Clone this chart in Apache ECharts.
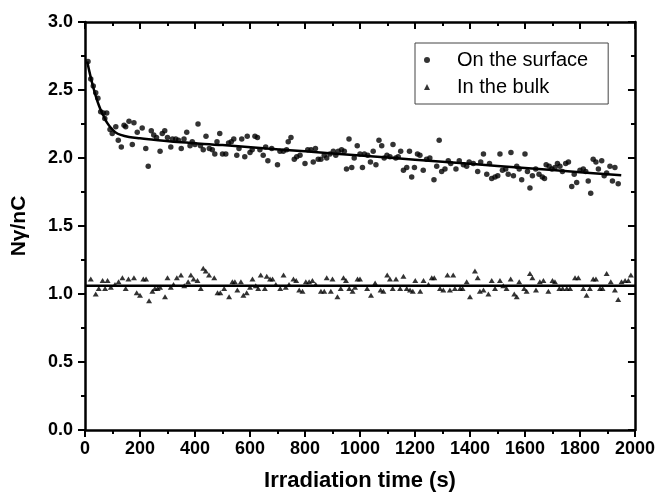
<!DOCTYPE html>
<html>
<head>
<meta charset="utf-8">
<script src="https://cdn.jsdelivr.net/npm/echarts@6/dist/echarts.min.js"></script>
<style>
html,body{margin:0;padding:0;background:#fff;}
#c{width:658px;height:499px;}
</style>
</head>
<body>
<div id="c"></div>
<script>
// Axis ticks
const xTicks = [0, 200, 400, 600, 800, 1000, 1200, 1400, 1600, 1800, 2000];
const yTicks = [0.0, 0.5, 1.0, 1.5, 2.0, 2.5, 3.0];

// "On the surface" measurements
const surfaceT = [11,21,30,39,47,57,67,72,79,91,99,112,121,132,142,148,160,172,178,190,208,221,230,241,250,260,273,281,290,300,312,318,330,340,350,360,370,382,390,400,411,420,430,440,452,463,472,480,490,500,512,522,532,541,552,560,570,581,590,600,608,618,627,636,648,657,665,679,700,709,721,733,739,749,761,770,782,800,810,822,830,838,848,858,870,879,891,903,912,921,933,943,951,960,970,979,990,1000,1009,1016,1028,1038,1048,1058,1069,1079,1088,1098,1109,1120,1130,1139,1148,1158,1170,1180,1188,1198,1209,1218,1230,1242,1254,1269,1279,1288,1297,1309,1321,1330,1349,1361,1376,1388,1397,1412,1428,1439,1449,1461,1471,1479,1491,1501,1509,1518,1530,1539,1549,1558,1570,1579,1588,1600,1609,1618,1627,1639,1651,1663,1671,1677,1688,1698,1709,1718,1727,1736,1748,1758,1770,1779,1788,1800,1812,1821,1830,1839,1848,1858,1867,1879,1888,1897,1909,1918,1927,1939];
const surfaceV = [2.71,2.58,2.53,2.48,2.44,2.34,2.33,2.29,2.33,2.21,2.18,2.23,2.13,2.08,2.24,2.23,2.27,2.10,2.26,2.19,2.22,2.07,1.94,2.20,2.17,2.15,2.05,2.18,2.20,2.15,2.08,2.14,2.14,2.13,2.07,2.14,2.19,2.09,2.12,2.10,2.25,2.09,2.06,2.16,2.07,2.06,2.03,2.12,2.18,2.03,2.03,2.11,2.12,2.14,2.02,2.07,2.14,2.01,2.16,2.04,2.06,2.16,2.15,2.06,2.02,2.08,1.98,2.07,1.95,2.05,2.05,2.06,2.12,2.15,1.99,2.01,2.02,1.96,2.06,2.06,1.97,2.07,1.99,1.99,2.02,2.00,2.03,2.05,2.02,2.05,2.06,2.05,1.92,2.14,1.93,2.00,2.09,2.03,1.93,2.03,2.02,1.97,2.05,1.95,2.13,2.09,2.00,2.02,2.01,2.10,2.00,2.01,2.05,1.91,1.93,2.05,1.86,1.93,2.03,2.02,1.91,1.99,2.00,1.84,1.94,2.13,1.90,1.92,1.98,1.96,1.92,1.98,1.95,1.94,1.97,1.96,1.90,1.97,2.03,1.88,1.96,1.85,1.86,1.87,2.03,1.91,1.92,1.88,2.04,1.87,1.94,1.92,1.84,2.03,1.90,1.78,1.87,1.92,1.88,1.86,1.85,1.95,1.94,1.92,1.93,1.96,1.94,1.90,1.96,1.97,1.79,1.88,1.82,1.91,1.92,1.90,1.83,1.74,1.99,1.97,1.92,1.98,1.87,1.89,1.94,1.83,1.93,1.81];

// "In the bulk" measurements
const bulkT = [21,39,50,64,73,82,94,109,122,136,148,158,178,188,200,212,222,233,245,254,264,273,291,300,312,322,334,349,361,375,385,395,409,421,430,439,451,470,482,492,506,524,536,545,554,567,576,588,600,609,621,630,639,654,661,673,682,694,710,722,730,742,758,768,779,791,803,815,827,839,858,870,879,894,900,918,930,940,949,961,973,982,991,1000,1026,1040,1055,1075,1085,1099,1109,1119,1131,1146,1158,1170,1182,1192,1201,1219,1231,1249,1261,1270,1291,1303,1318,1327,1339,1345,1364,1373,1388,1400,1418,1428,1436,1449,1467,1479,1491,1509,1521,1533,1548,1561,1570,1579,1597,1606,1618,1627,1640,1654,1667,1685,1700,1709,1725,1737,1752,1764,1782,1794,1812,1824,1836,1848,1858,1873,1882,1897,1912,1927,1939,1951,1964,1976,1985];
const bulkV = [1.11,1.00,1.04,1.10,1.04,1.10,1.05,1.07,1.09,1.12,1.04,1.11,1.12,1.01,0.99,1.11,1.11,0.95,1.02,1.04,1.04,1.05,0.98,1.12,1.05,1.07,1.12,1.14,1.06,1.09,1.14,1.11,1.10,1.04,1.19,1.17,1.14,1.12,1.01,1.01,1.04,0.98,1.09,1.09,1.03,1.09,0.99,1.01,1.05,1.11,1.06,1.04,1.14,1.04,1.13,1.11,1.11,1.07,1.04,1.14,1.05,1.07,1.11,1.10,1.03,1.02,1.09,1.09,1.10,1.07,1.02,1.02,1.12,1.02,1.11,0.98,1.04,1.12,1.10,1.04,1.02,1.05,1.11,1.11,1.04,0.99,1.08,1.03,1.02,1.14,1.11,1.04,1.11,1.04,1.13,1.04,1.03,1.02,1.10,1.02,1.10,1.07,1.12,1.12,1.04,1.03,1.14,1.03,1.14,1.04,1.04,1.04,1.09,0.98,1.17,1.12,1.02,1.03,1.00,1.10,1.04,1.10,1.06,1.04,1.11,1.00,0.98,1.09,1.04,1.02,1.15,1.12,1.03,1.09,1.10,1.02,1.10,1.09,1.04,1.04,1.04,1.04,1.12,1.12,1.04,0.99,1.04,1.11,1.11,1.04,1.04,1.15,1.09,1.03,0.96,1.09,1.10,1.10,1.14];

// Fitted curves
const surfaceFitT = [8,20,30,40,50,60,70,80,95,110,130,160,200,250,350,500,660,800,1000,1200,1400,1600,1800,1950];
const surfaceFitV = [2.71,2.60,2.52,2.45,2.39,2.34,2.30,2.26,2.22,2.19,2.17,2.155,2.145,2.135,2.115,2.095,2.07,2.049,2.018,1.988,1.957,1.927,1.896,1.873];
const bulkFitT = [0, 2000];
const bulkFitV = [1.06, 1.06];

const zip = (a, b) => a.map((t, i) => [t, b[i]]);

const chart = echarts.init(document.getElementById('c'), null, {renderer: 'canvas'});
const axisLine = {show: true, onZero: false, lineStyle: {color: '#000', width: 2.5}};
const labelFont = {color: '#000', fontFamily: 'Liberation Sans, Arial, sans-serif', fontWeight: 'bold', fontSize: 18};

chart.setOption({
  animation: false,
  backgroundColor: '#fff',
  grid: {left: 85, right: 23, top: 22, bottom: 69},
  legend: {
    left: 415, top: 43,
    orient: 'vertical',
    data: ['On the surface', 'In the bulk'],
    backgroundColor: '#fff',
    borderColor: '#444',
    borderWidth: 1,
    borderRadius: 0,
    padding: [7, 20, 7, 9],
    itemGap: 7,
    itemWidth: 6,
    itemHeight: 6,
    textStyle: {color: '#000', fontFamily: 'Liberation Sans, Arial, sans-serif', fontSize: 20, padding: [0, 0, 0, 22]}
  },
  xAxis: [{
    type: 'value', min: 0, max: 2000, interval: 200,
    position: 'bottom',
    name: 'Irradiation time (s)', nameLocation: 'middle', nameGap: 40,
    nameTextStyle: Object.assign({}, labelFont, {fontSize: 22}),
    axisLine: axisLine,
    axisTick: {show: true, inside: false, length: 7, lineStyle: {color: '#000', width: 2}},
    minorTick: {show: true, splitNumber: 2, length: 4, lineStyle: {color: '#000', width: 2}},
    axisLabel: Object.assign({}, labelFont, {margin: 10, formatter: v => xTicks.includes(v) ? String(v) : ''}),
    splitLine: {show: false}
  }, {
    type: 'value', min: 0, max: 2000, interval: 200,
    position: 'top',
    axisLine: axisLine,
    axisTick: {show: true, inside: true, length: 7, lineStyle: {color: '#000', width: 2}},
    minorTick: {show: true, splitNumber: 2, length: 4, lineStyle: {color: '#000', width: 2}},
    axisLabel: {show: false},
    splitLine: {show: false}
  }],
  yAxis: [{
    type: 'value', min: 0, max: 3, interval: 0.5,
    position: 'left',
    name: 'N\u03b3/nC', nameLocation: 'middle', nameGap: 55, nameRotate: 90,
    nameTextStyle: Object.assign({}, labelFont, {fontSize: 21}),
    axisLine: axisLine,
    axisTick: {show: true, inside: false, length: 7, lineStyle: {color: '#000', width: 2}},
    minorTick: {show: true, splitNumber: 2, length: 4, lineStyle: {color: '#000', width: 2}},
    axisLabel: Object.assign({}, labelFont, {margin: 12, formatter: v => yTicks.some(t => Math.abs(t - v) < 1e-9) ? v.toFixed(1) : ''}),
    splitLine: {show: false}
  }, {
    type: 'value', min: 0, max: 3, interval: 0.5,
    position: 'right',
    axisLine: axisLine,
    axisTick: {show: true, inside: true, length: 7, lineStyle: {color: '#000', width: 2}},
    minorTick: {show: true, splitNumber: 2, length: 4, lineStyle: {color: '#000', width: 2}},
    axisLabel: {show: false},
    splitLine: {show: false}
  }],
  series: [{
    name: 'On the surface', type: 'scatter', xAxisIndex: 0, yAxisIndex: 0,
    symbol: 'circle', symbolSize: 5.5,
    itemStyle: {color: '#000'},
    data: zip(surfaceT, surfaceV)
  }, {
    name: 'In the bulk', type: 'scatter', xAxisIndex: 0, yAxisIndex: 0,
    symbol: 'triangle', symbolSize: [6, 5],
    itemStyle: {color: '#000'},
    data: zip(bulkT, bulkV)
  }, {
    name: 'surface fit', type: 'line', xAxisIndex: 0, yAxisIndex: 0,
    showSymbol: false, smooth: 0.4,
    lineStyle: {color: '#000', width: 2.5},
    data: zip(surfaceFitT, surfaceFitV),
    z: 3
  }, {
    name: 'bulk fit', type: 'line', xAxisIndex: 0, yAxisIndex: 0,
    showSymbol: false,
    lineStyle: {color: '#000', width: 2.5},
    data: zip(bulkFitT, bulkFitV),
    z: 3
  }]
});
</script>
</body>
</html>
